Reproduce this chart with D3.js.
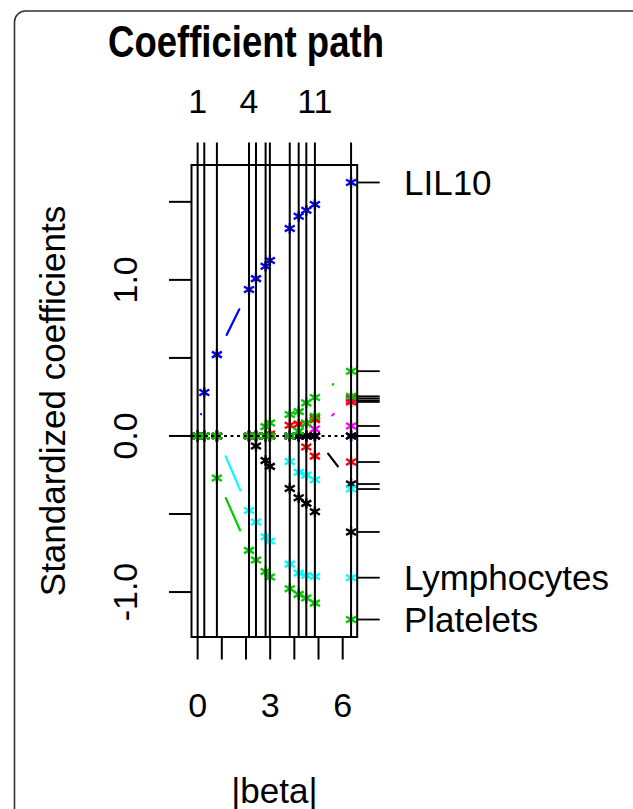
<!DOCTYPE html>
<html><head><meta charset="utf-8">
<script src="https://cdn.jsdelivr.net/npm/d3@7"></script>
<style>
body{margin:0;background:#fff;}
svg{display:block;}
text{font-family:"Liberation Sans",Arial,Helvetica,sans-serif;fill:#000;}
</style>
</head><body>
<svg id="c" width="633" height="809"></svg>
<script>
// |beta| at each step of the path
const steps = [0, 0.275, 0.797, 2.125, 2.413, 2.811, 2.988, 3.81, 4.18, 4.495, 4.85, 6.346];
const stepLabels = ["1","","","4","","","","","","","11",""];
const xTicks = [0,1,2,3,4,5,6];
const xTickLabels = ["0","","","3","","","6"];
const yTicks = [-1,-0.5,0,0.5,1,1.5];
const yTickLabels = ["-1.0","","0.0","","1.0",""];

// standardized coefficients per variable (one value per step)
const coef01 = [0,0,0,0,-0.064,-0.157,-0.195,-0.336,-0.396,-0.432,-0.485,-0.615];
const coef02 = [0,0,0,0,0,0,0,0,0,-0.071,-0.129,-0.167];
const coef03 = [0,0,-0.269,-0.733,-0.795,-0.868,-0.904,-0.979,-1.015,-1.038,-1.071,-1.176];
const coef04 = [0,0.279,0.521,0.938,1.008,1.087,1.124,1.329,1.408,1.446,1.483,1.624];
const coef05 = [0,0,0,-0.478,-0.551,-0.646,-0.673,-0.821,-0.878,-0.894,-0.900,-0.908];
const coef06 = [0,0,0,0,0,0,0,0,0,0,0,0.064];
const coef07 = [0,0,0,0,0,0,0,0,0,0,0,-0.308];
const coef08 = [0,0,0,0,0,0,0,0,0,0,0.117,0.241];
const coef09 = [0,0,0,0,0,0.060,0.083,0.137,0.156,0.212,0.247,0.415];
const coef10 = [0,0,0,0,0,0,0,0,0,0,0,0];
const coef11 = [0,0,0,0,0,0,0,-0.163,-0.232,-0.251,-0.280,-0.340];
const coef12 = [0,0,0,0,0,0,0,0,0,0,0.045,0.228];
const coef13 = [0,0,0,0,0,0,0,0,0,0,0,0];
const coef14 = [0,0,0,0,0,0,0.012,0.069,0.076,0.082,0.104,0.218];
const coef15 = [0,0,0,0,0,0,0,0,0.031,0.082,0.126,0.254];
const coefs = [coef01,coef02,coef03,coef04,coef05,coef06,coef07,coef08,coef09,coef10,coef11,coef12,coef13,coef14,coef15];
const varLabels = ["","","Platelets","LIL10","Lymphocytes","","","","","","","","","",""];
const palette = ["#000000","#FF0000","#00CD00","#0000FF","#00FFFF","#FF00FF"];

const svg = d3.select("#c");

// outer rounded frame
svg.append("rect").attr("x",14.5).attr("y",11).attr("width",700).attr("height",900)
  .attr("rx",11).attr("fill","none").attr("stroke","#333").attr("stroke-width",1.6);

const xmax = d3.max(steps), xmin = d3.min(steps);
const xr = xmax - xmin;
const allv = coefs.flat();
const ymin = d3.min(allv), ymax = d3.max(allv), yr = ymax - ymin;
const L = 191.5, R = 357.2, T = 165, B = 637;
const x = d3.scaleLinear().domain([xmin-0.04*xr, xmax+0.04*xr]).range([L,R]);
const y = d3.scaleLinear().domain([ymin-0.04*yr, ymax+0.04*yr]).range([B,T]);

const plot = svg.append("g");
const gapD = 22;
const starPath = "M0,-5.2L0,5.2M-5,-3L5,3M-5,3L5,-3";

coefs.forEach((c,j)=>{
  const col = palette[j % palette.length];
  const g = plot.append("g");
  for(let i=0;i<c.length-1;i++){
    const x0=x(steps[i]), y0=y(c[i]), x1=x(steps[i+1]), y1=y(c[i+1]);
    const len = Math.hypot(x1-x0,y1-y0);
    if(len===0) continue;
    const f = gapD/len;
    if(f<0.5){
      g.append("line")
        .attr("x1",x0+f*(x1-x0)).attr("y1",y0+f*(y1-y0))
        .attr("x2",x1+f*(x0-x1)).attr("y2",y1+f*(y0-y1))
        .attr("stroke",col).attr("stroke-width",2.2).attr("stroke-linecap","round");
    }
  }
  g.selectAll("path").data(c).join("path")
    .attr("d",starPath)
    .attr("transform",(v,i)=>`translate(${x(steps[i])},${y(v)})`)
    .attr("fill","none").attr("stroke",col).attr("stroke-width",2.4);
});

// zero reference line
plot.append("line").attr("x1",L).attr("x2",R).attr("y1",y(0)).attr("y2",y(0))
  .attr("stroke","#000").attr("stroke-width",2).attr("stroke-dasharray","3,3.5");

// breaks
plot.selectAll("line.brk").data(steps).join("line").attr("class","brk")
  .attr("x1",d=>x(d)).attr("x2",d=>x(d)).attr("y1",T).attr("y2",B)
  .attr("stroke","#000").attr("stroke-width",2);

// box
svg.append("rect").attr("x",L).attr("y",T).attr("width",R-L).attr("height",B-T)
  .attr("fill","none").attr("stroke","#000").attr("stroke-width",2);

const tick = 22.5;
// bottom axis
const axB = svg.append("g");
axB.append("line").attr("x1",x(xTicks[0])).attr("x2",x(xTicks[xTicks.length-1])).attr("y1",B).attr("y2",B).attr("stroke","#000").attr("stroke-width",2);
axB.selectAll("line.t").data(xTicks).join("line").attr("class","t")
  .attr("x1",d=>x(d)).attr("x2",d=>x(d)).attr("y1",B).attr("y2",B+tick)
  .attr("stroke","#000").attr("stroke-width",2);
axB.selectAll("text").data(xTicks).join("text")
  .attr("x",d=>x(d)).attr("y",717).attr("text-anchor","middle").attr("font-size",34)
  .text((d,i)=>xTickLabels[i]);

// top axis
const axT = svg.append("g");
axT.selectAll("line").data(steps).join("line")
  .attr("x1",d=>x(d)).attr("x2",d=>x(d)).attr("y1",T).attr("y2",T-tick)
  .attr("stroke","#000").attr("stroke-width",2);
axT.selectAll("text").data(steps).join("text")
  .attr("x",d=>x(d)).attr("y",113).attr("text-anchor","middle").attr("font-size",34)
  .text((d,i)=>stepLabels[i]);

// left axis
const axL = svg.append("g");
axL.selectAll("line").data(yTicks).join("line")
  .attr("x1",L-tick).attr("x2",L).attr("y1",d=>y(d)).attr("y2",d=>y(d))
  .attr("stroke","#000").attr("stroke-width",2);
axL.selectAll("text").data(yTicks).join("text")
  .attr("transform",d=>`translate(137,${y(d)}) rotate(-90)`)
  .attr("text-anchor","middle").attr("font-size",34)
  .text((d,i)=>yTickLabels[i]);

// right axis: final coefficients
const finals = coefs.map(c=>c[c.length-1]);
const axR = svg.append("g");
axR.selectAll("line").data(finals).join("line")
  .attr("x1",R).attr("x2",R+tick).attr("y1",d=>y(d)).attr("y2",d=>y(d))
  .attr("stroke","#000").attr("stroke-width",1.8);
axR.selectAll("text").data(finals).join("text")
  .attr("x",404).attr("y",d=>y(d)+12.5).attr("font-size",35)
  .text((d,i)=>varLabels[i]);

// titles
svg.append("text").attr("transform","translate(246,57) scale(0.83,1)")
  .attr("text-anchor","middle").attr("font-size",44).attr("font-weight","bold")
  .text("Coefficient path");
svg.append("text").attr("x",(L+R)/2).attr("y",803).attr("text-anchor","middle")
  .attr("font-size",35).text("|beta|");
svg.append("text").attr("transform",`translate(65,${(T+B)/2}) rotate(-90)`)
  .attr("text-anchor","middle").attr("font-size",35).text("Standardized coefficients");
</script>
</body></html>
